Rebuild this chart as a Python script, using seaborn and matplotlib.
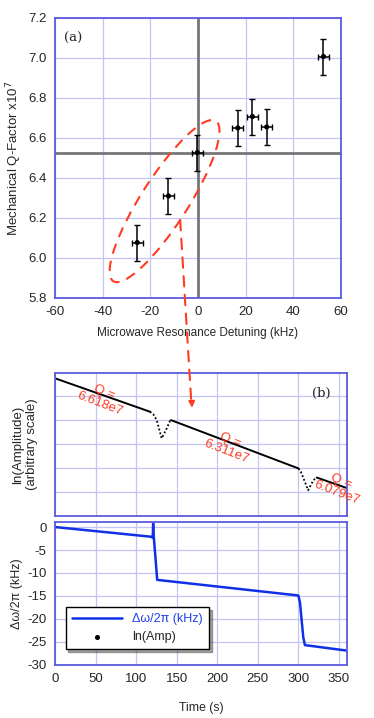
import numpy as np
import pandas as pd
import matplotlib
matplotlib.use("Agg")
import matplotlib.pyplot as plt
from matplotlib.patches import Ellipse, ConnectionPatch
import seaborn as sns

sns.set_theme(style="white")
plt.rcParams['font.family'] = ['Liberation Sans', 'DejaVu Sans']
plt.rcParams['axes.unicode_minus'] = False

# panel (a): Q-factor vs detuning
detuning = [-25.5, -12.4, -0.3, 16.7, 22.8, 28.8, 52.6]
q_factor = [6.077, 6.31, 6.527, 6.65, 6.707, 6.655, 7.007]
detuning_err = [2.3, 2.3, 2.3, 2.3, 2.3, 2.3, 2.3]
q_err = [0.09, 0.09, 0.09, 0.09, 0.09, 0.09, 0.09]

# panel (b) top: ln(amplitude), solid pieces and dotted dips
amp_t1 = [0, 117]
amp_y1 = [5.74, 4.35]
dip1_t = [117, 121, 125.4, 131.5, 137.7, 141.8, 143]
dip1_y = [4.35, 4.25, 4.0, 3.24, 3.65, 3.97, 4.0]
amp_t2 = [143, 300]
amp_y2 = [4.0, 1.99]
dip2_t = [300, 303, 308, 312, 318.5, 322.6]
dip2_y = [1.99, 1.85, 1.43, 1.08, 1.5, 1.61]
amp_t3 = [322.6, 360]
amp_y3 = [1.61, 1.17]

# panel (b) bottom: frequency shift
freq_t = [0, 118, 120.5, 121, 121.5, 126, 300, 302, 306, 308, 360]
freq_y = [0.0, -2.1, -2.3, 0.8, -1.5, -11.5, -14.9, -16.5, -24.0, -25.7, -26.9]

q_labels = ["Q =\n6.618e7", "Q =\n6.311e7", "Q =\n6.079e7"]
q_pos_t = [58, 214, 350]
q_pos_y = [4.92, 2.92, 1.22]

spine_c = '#5a5ae0'
grid_c = '#c4c4f2'
red = '#ff3b22'


def style_axes(ax):
    for s in ax.spines.values():
        s.set_color(spine_c)
        s.set_linewidth(1.3)
    ax.tick_params(direction='in', color=spine_c, length=3, labelsize=9.5, pad=6)
    ax.grid(True, color=grid_c, lw=0.9)
    ax.set_axisbelow(True)


fig = plt.figure(figsize=(3.74, 7.18), dpi=100)
ax_a = fig.add_axes([0.147, 0.585, 0.765, 0.39])
ax_b1 = fig.add_axes([0.147, 0.281, 0.781, 0.1995])
ax_b2 = fig.add_axes([0.147, 0.074, 0.781, 0.199], sharex=ax_b1)

# ---- panel (a)
style_axes(ax_a)
ax_a.axvline(0, color='#777777', lw=2, zorder=1)
ax_a.axhline(6.525, color='#777777', lw=2, zorder=1)
ax_a.errorbar(detuning, q_factor, xerr=detuning_err, yerr=q_err, fmt='none',
              ecolor='black', elinewidth=1.1, capsize=2, capthick=1, zorder=3)
df_a = pd.DataFrame({'det': detuning, 'q': q_factor})
sns.scatterplot(data=df_a, x='det', y='q', ax=ax_a, color='black', s=14,
                edgecolor='none', zorder=4)
ax_a.set_xlim(-60, 60)
ax_a.set_ylim(5.8, 7.2)
ax_a.set_xticks(np.arange(-60, 61, 20))
ax_a.set_yticks(np.arange(5.8, 7.21, 0.2))
ax_a.set_yticklabels(['%.1f' % v for v in np.arange(5.8, 7.21, 0.2)])
ax_a.set_xlabel('Microwave Resonance Detuning (kHz)', fontsize=8.5, labelpad=6)
ax_a.set_ylabel('Mechanical Q-Factor x10$^7$', fontsize=9.5, labelpad=3)
ax_a.text(0.03, 0.95, '(a)', transform=ax_a.transAxes, family='DejaVu Serif',
          fontsize=9.5, va='top', ha='left')
ell = Ellipse((0.383, 0.346), width=0.675, height=0.165, angle=58,
              transform=ax_a.transAxes, fill=False, edgecolor=red, lw=1.5,
              linestyle=(0, (5, 3.5)), zorder=5)
ax_a.add_patch(ell)

# ---- panel (b) top
style_axes(ax_b1)
for tt, yy in [(amp_t1, amp_y1), (amp_t2, amp_y2), (amp_t3, amp_y3)]:
    sns.lineplot(x=tt, y=yy, ax=ax_b1, color='black', lw=1.4)
for tt, yy in [(dip1_t, dip1_y), (dip2_t, dip2_y)]:
    sns.lineplot(x=tt, y=yy, ax=ax_b1, color='black', lw=1.3, linestyle=(0, (1, 1.2)))
ax_b1.set_ylim(0, 5.96)
ax_b1.set_yticks([1, 2, 3, 4, 5])
ax_b1.set_yticklabels([])
ax_b1.tick_params(labelbottom=False)
ax_b1.set_ylabel('ln(Amplitude)\n(arbitrary scale)', fontsize=9.5, labelpad=6)
ax_b1.text(0.88, 0.9, '(b)', transform=ax_b1.transAxes, family='DejaVu Serif',
           fontsize=9.5, va='top', ha='left')
for lab, tx, ty in zip(q_labels, q_pos_t, q_pos_y):
    ax_b1.text(tx, ty, lab, color=red, fontsize=9.5, rotation=-21,
               ha='center', va='center', linespacing=0.95, clip_on=False,
               rotation_mode='anchor')

# ---- panel (b) bottom
style_axes(ax_b2)
sns.lineplot(x=freq_t, y=freq_y, ax=ax_b2, color='#1030e8', lw=1.8,
             label='\u0394\u03c9/2\u03c0 (kHz)')
ax_b2.scatter([], [], color='black', s=7, label='ln(Amp)')
ax_b2.set_xlim(0, 360)
ax_b2.set_ylim(-30, 1.1)
ax_b2.set_yticks(np.arange(-30, 1, 5))
ax_b2.set_xticks(np.arange(0, 351, 50))
ax_b2.set_xlabel('Time (s)', fontsize=8.8, labelpad=12)
ax_b2.set_ylabel('\u0394\u03c9/2\u03c0 (kHz)', fontsize=9, labelpad=3)
leg = ax_b2.legend(loc='lower left', bbox_to_anchor=(0.015, 0.065), fontsize=9,
                   frameon=True, fancybox=False, shadow=True, edgecolor='black',
                   framealpha=1, handlelength=4.0,
                   borderpad=0.5, labelspacing=0.45)
leg.get_frame().set_linewidth(1.0)
leg.get_texts()[0].set_color('#2040f0')

# dashed red link from ellipse down to panel (b)
con = ConnectionPatch(xyA=(-7.5, 6.19), coordsA=ax_a.transData,
                      xyB=(168, 4.75), coordsB=ax_b1.transData,
                      color=red, lw=1.5, linestyle=(0, (5, 4)))
fig.add_artist(con)
ax_b1.annotate('', xy=(169, 4.4), xytext=(168.5, 4.8),
               arrowprops=dict(arrowstyle='-|>', color=red, lw=1.3,
                               mutation_scale=9))

fig.savefig('out.png', dpi=100)
